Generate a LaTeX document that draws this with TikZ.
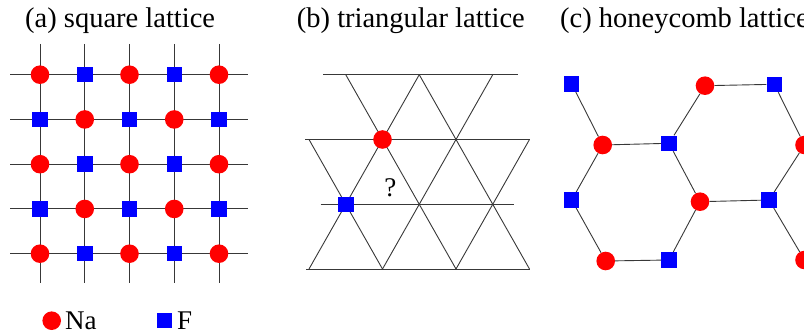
\documentclass[tikz,border=0pt]{standalone}
\usepackage{fontspec}
\setmainfont{Liberation Serif}
\begin{document}
\begin{tikzpicture}[x=1pt,y=-1pt,
  na/.style={circle, fill=red, minimum size=18.6pt, inner sep=0pt},
  fl/.style={rectangle, fill=blue, minimum size=15.5pt, inner sep=0pt},
  lat/.style={line width=0.9pt, draw=black!78},
  ttl/.style={anchor=base west, inner sep=0pt, font=\fontsize{28.5}{30}\selectfont},
  leg/.style={anchor=base west, inner sep=0pt, font=\fontsize{27}{29}\selectfont}]
\useasboundingbox (0,0) rectangle (804,334);
\clip (0,0) rectangle (804,334);

% titles
\node[ttl] (ta) at (25,28) {(a) square lattice};
\node[ttl] (tb) at (296.7,28) {(b) triangular lattice};
\node[ttl] (tc) at (560,28) {(c) honeycomb lattice};

% (a) square lattice
\foreach \i in {0,...,4}{
  \draw[lat] ({40+44.75*\i},44) -- ({40+44.75*\i},283);
  \draw[lat] (10,{74.7+44.75*\i}) -- (248,{74.7+44.75*\i});
}
\foreach \i in {0,...,4}{
  \foreach \j in {0,...,4}{
    \pgfmathtruncatemacro{\myparity}{mod(\i+\j,2)}
    \ifnum\myparity=0
      \node[na] (s-\i-\j) at ({40+44.75*\i},{74.7+44.75*\j}) {};
    \else
      \node[fl] (s-\i-\j) at ({40+44.75*\i},{74.7+44.75*\j}) {};
    \fi
  }
}

% (b) triangular lattice
\coordinate (e00) at (345.75,74.7);
\coordinate (e01) at (419.25,74.7);
\coordinate (e02) at (492.75,74.7);
\coordinate (o10) at (309,139.5);
\coordinate (o11) at (382.5,139.5);
\coordinate (o12) at (456,139.5);
\coordinate (o13) at (529.5,139.5);
\coordinate (e20) at (345.75,204.3);
\coordinate (e21) at (419.25,204.3);
\coordinate (e22) at (492.75,204.3);
\coordinate (o30) at (309,269);
\coordinate (o31) at (382.5,269);
\coordinate (o32) at (456,269);
\coordinate (o33) at (529.5,269);
\draw[lat] (323.3,74.7) -- (517.7,74.7);
\draw[lat] (305,139.5) -- (529.5,139.5);
\draw[lat] (320.7,204.3) -- (514,204.3);
\draw[lat] (306,269) -- (529.5,269);
\draw[lat] (e00) -- (o11) -- (e21) -- (o32);
\draw[lat] (e01) -- (o11) -- (e20) -- (o30);
\draw[lat] (e01) -- (o12) -- (e22) -- (o33);
\draw[lat] (e02) -- (o12) -- (e21) -- (o31);
\draw[lat] (o10) -- (e20) -- (o31);
\draw[lat] (o13) -- (e22) -- (o32);
\node[na] (tna) at (o11) {};
\node[fl] (tfl) at (e20) {};
\node[font=\fontsize{27}{29}\selectfont, inner sep=0pt] (q) at (390.3,187.3) {?};

% (c) honeycomb lattice
\node[fl] (hA) at (571.7,84) {};
\node[na] (hB) at (705,85.7) {};
\node[fl] (hC) at (774.3,84.3) {};
\node[na] (hD) at (602.7,145) {};
\node[fl] (hE) at (669,143.3) {};
\node[na] (hF) at (804.5,145) {};
\node[fl] (hG) at (571.7,200) {};
\node[na] (hH) at (700,201.7) {};
\node[fl] (hI) at (769,200) {};
\node[na] (hJ) at (605.7,261) {};
\node[fl] (hK) at (669,260) {};
\node[na] (hL) at (804.5,260) {};
\draw[lat] (hA) -- (hD);
\draw[lat] (hD) -- (hE);
\draw[lat] (hD) -- (hG);
\draw[lat] (hG) -- (hJ);
\draw[lat] (hJ) -- (hK);
\draw[lat] (hK) -- (hH);
\draw[lat] (hH) -- (hE);
\draw[lat] (hE) -- (hB);
\draw[lat] (hB) -- (hC);
\draw[lat] (hC) -- (hF);
\draw[lat] (hF) -- (hI);
\draw[lat] (hH) -- (hI);
\draw[lat] (hI) -- (hL);

% legend
\node[na] (lna) at (51.7,320.7) {};
\node[leg] (lnat) at (65,329.5) {Na};
\node[fl] (lfl) at (164.5,320.7) {};
\node[leg] (lflt) at (177,329.5) {F};
\end{tikzpicture}
\end{document}
